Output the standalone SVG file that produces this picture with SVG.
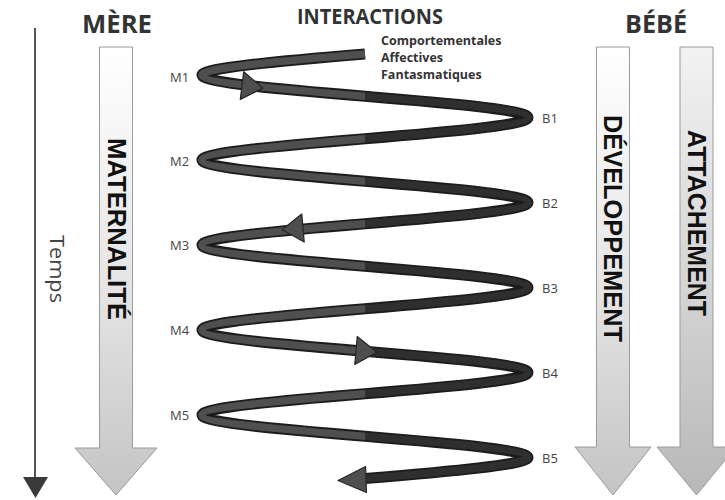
<svg xmlns="http://www.w3.org/2000/svg" xmlns:xlink="http://www.w3.org/1999/xlink" width="725" height="500" viewBox="0 0 725 500">
<style>
.title{font-family:"Open Sans","Noto Sans",sans-serif;font-weight:bold;fill:#333;}
.sub{font-family:"Open Sans","Noto Sans",sans-serif;font-weight:bold;font-size:12.5px;fill:#333;}
.lbl{font-family:"Open Sans","Noto Sans",sans-serif;font-size:13px;fill:#444;}
.vert{font-family:"Liberation Sans",Arial,sans-serif;font-weight:bold;font-size:25px;fill:#111;}
.big{stroke:#9a9a9a;stroke-width:1;}
.ribOut{fill:none;stroke:#1c1c1c;stroke-width:11;stroke-linejoin:round;}
.ribL{fill:none;stroke:#4f4f4f;stroke-width:7.5;stroke-linejoin:round;}
.ribR{fill:none;stroke:#2f2f2f;stroke-width:7.5;stroke-linejoin:round;}
.head{fill:#4e4e4e;stroke:#262626;stroke-width:1.2;stroke-linejoin:round;}
</style>
<defs>
<linearGradient id="gA" x1="0" y1="0" x2="0" y2="1">
<stop offset="0" stop-color="#ffffff"/>
<stop offset="0.55" stop-color="#e4e4e4"/>
<stop offset="1" stop-color="#c4c4c4"/>
</linearGradient>
<linearGradient id="gB" x1="0" y1="0" x2="0" y2="1">
<stop offset="0" stop-color="#f2f2f2"/>
<stop offset="0.55" stop-color="#d3d3d3"/>
<stop offset="1" stop-color="#b8b8b8"/>
</linearGradient>
<clipPath id="cL"><rect x="0" y="0" width="365" height="500"/></clipPath>
<clipPath id="cR"><rect x="365" y="0" width="360" height="500"/></clipPath>
<path id="spiral" d="M 365 54 C 279.7 61, 202 68, 202 75 C 202 90.4, 528 102.1, 528 117.5 C 528 132.9, 202 144.6, 202 160 C 202 175.4, 528 187.1, 528 202.5 C 528 217.9, 202 229.6, 202 245 C 202 260.4, 528 272.1, 528 287.5 C 528 302.9, 202 314.6, 202 330 C 202 345.4, 528 357.1, 528 372.5 C 528 387.9, 202 399.6, 202 415 C 202 430.4, 528 442.1, 528 457.5 C 528 464.5, 450.3 471.5, 365 478.5"/>
<polygon id="ah" points="0,-14 21,0 0,14"/>
<polygon id="ahEnd" points="0,-13 28,0 0,13"/>
</defs>
<rect width="725" height="500" fill="#ffffff"/>

<g id="time-axis">
<line x1="35" y1="28" x2="35" y2="480" stroke="#555" stroke-width="2"/>
<polygon points="23,477 48,477 35.5,498" fill="#3a3a3a"/>
<text class="lbl" style="font-size:20px;font-weight:normal" fill="#444" textLength="68" lengthAdjust="spacingAndGlyphs" transform="translate(50,235) rotate(90)">Temps</text>
</g>

<g id="mere">
<text class="title" x="117" y="33" font-size="25" text-anchor="middle" textLength="70" lengthAdjust="spacingAndGlyphs">MÈRE</text>
<polygon class="big" fill="url(#gA)" points="99.5,47 132.5,47 132.5,448 157,448 116,495 75,448 99.5,448"/>
<text class="vert" textLength="182" lengthAdjust="spacingAndGlyphs" transform="translate(107.5,138) rotate(90)">MATERNALITÉ</text>
</g>

<g id="interactions">
<text class="title" x="370" y="24" font-size="21" text-anchor="middle" textLength="146" lengthAdjust="spacingAndGlyphs">INTERACTIONS</text>
<text class="sub" x="381" y="45">Comportementales</text>
<text class="sub" x="381" y="62">Affectives</text>
<text class="sub" x="381" y="79">Fantasmatiques</text>
</g>

<g id="bebe">
<text class="title" x="656" y="33" font-size="25" text-anchor="middle" textLength="62" lengthAdjust="spacingAndGlyphs">BÉBÉ</text>
</g>

<g id="developpement">
<polygon class="big" fill="url(#gA)" points="596.5,47 629.5,47 629.5,447 651,447 613,495 575,447 596.5,447"/>
<text class="vert" textLength="227" lengthAdjust="spacingAndGlyphs" transform="translate(603.5,115) rotate(90)">DÉVELOPPEMENT</text>
</g>

<g id="attachement">
<polygon class="big" fill="url(#gB)" points="680,47 713,47 713,447 736,447 696.5,495 657,447 680,447"/>
<text class="vert" textLength="186" lengthAdjust="spacingAndGlyphs" transform="translate(687.5,130) rotate(90)">ATTACHEMENT</text>
</g>

<g id="connectors">
<use href="#spiral" class="ribOut"/>
<use href="#spiral" class="ribL" clip-path="url(#cL)"/>
<use href="#spiral" class="ribR" clip-path="url(#cR)"/>
<use href="#ah" class="head" transform="translate(242,85.5) rotate(7)"/>
<use href="#ah" class="head" transform="translate(303,228) rotate(175)"/>
<use href="#ah" class="head" transform="translate(356,350.5) rotate(5)"/>
<use href="#ahEnd" class="head" transform="translate(366,479.5) rotate(178)"/>
</g>

<g id="m1"><text class="lbl" x="170" y="82">M1</text></g>
<g id="m2"><text class="lbl" x="170" y="166">M2</text></g>
<g id="m3"><text class="lbl" x="170" y="250">M3</text></g>
<g id="m4"><text class="lbl" x="170" y="335">M4</text></g>
<g id="m5"><text class="lbl" x="170" y="420">M5</text></g>
<g id="b1"><text class="lbl" x="542" y="123">B1</text></g>
<g id="b2"><text class="lbl" x="542" y="208">B2</text></g>
<g id="b3"><text class="lbl" x="542" y="293">B3</text></g>
<g id="b4"><text class="lbl" x="542" y="378">B4</text></g>
<g id="b5"><text class="lbl" x="542" y="463">B5</text></g>
</svg>
